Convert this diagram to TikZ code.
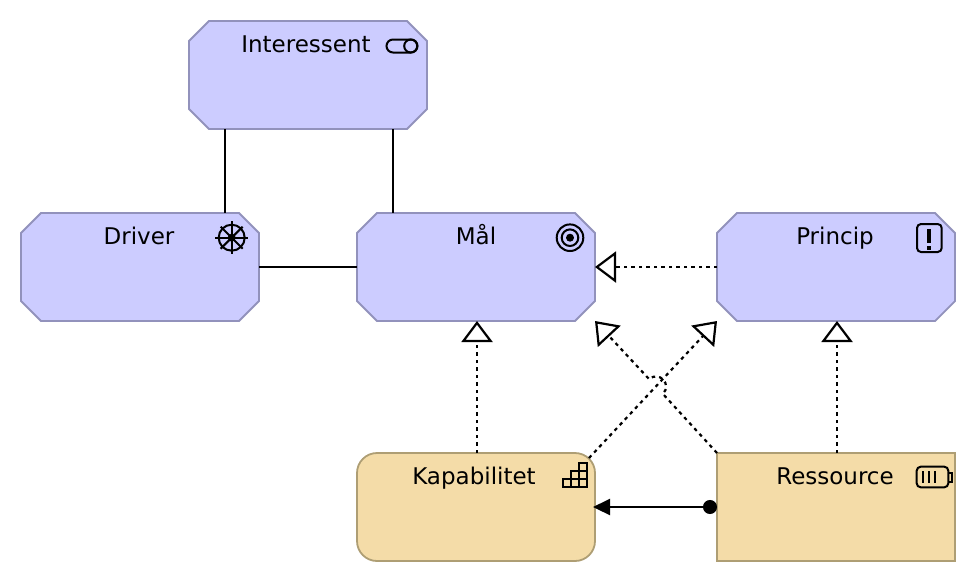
\documentclass[tikz,border=0pt]{standalone}
\usepackage{fontspec}
\setmainfont{DejaVu Sans}
\usetikzlibrary{arrows.meta,calc}
\definecolor{motfill}{HTML}{CCCCFF}
\definecolor{motline}{HTML}{9292BC}
\definecolor{resfill}{HTML}{F4DCA8}
\definecolor{resline}{HTML}{AE9E74}
\tikzset{
  boxsize/.style={rectangle,minimum width=238pt,minimum height=108pt,inner sep=0pt,outer sep=0pt,line width=1.8pt},
  motbox/.style={boxsize},
  octa/.style={line width=1.8pt,draw=motline,fill=motfill},
  capbox/.style={boxsize,rounded corners=20pt,draw=resline,fill=resfill},
  resbox/.style={boxsize,draw=resline,fill=resfill},
  caption/.style={font=\fontsize{23}{27}\selectfont,inner sep=0pt,anchor=base,text=black},
  assoc/.style={line width=2.2pt,draw=black},
  realize/.style={line width=2.2pt,draw=black,dash pattern=on 3.5pt off 4pt,-{Triangle[open,length=21pt,width=31pt,fill=white]}},
  serve/.style={line width=2.2pt,draw=black,{Circle[length=14pt]}-{Triangle[length=17pt,width=16pt]}},
  icon/.style={line width=2pt,draw=black},
}
\newcommand{\octagon}[1]{\draw[octa] ([xshift=20pt]#1.north west) -- ([xshift=-20pt]#1.north east) -- ([yshift=-20pt]#1.north east) -- ([yshift=20pt]#1.south east) -- ([xshift=-20pt]#1.south east) -- ([xshift=20pt]#1.south west) -- ([yshift=20pt]#1.south west) -- ([yshift=-20pt]#1.north west) -- cycle;}
\begin{document}
\begin{tikzpicture}[x=1pt,y=-1pt]
\useasboundingbox (0,0) rectangle (976,582);
% boxes
\node[motbox] (inter) at (308,75) {};
\node[motbox] (driver) at (140,267) {};
\node[motbox] (mal) at (476,267) {};
\node[motbox] (princip) at (836,267) {};
\octagon{inter}
\octagon{driver}
\octagon{mal}
\octagon{princip}
\node[capbox] (kap) at (476,507) {};
\node[resbox] (res) at (836,507) {};
% captions
\node[caption] (tinter) at (306,52) {Interessent};
\node[caption] (tdriver) at (139,244) {Driver};
\node[caption] (tmal) at (476,244) {Mål};
\node[caption] (tprincip) at (835,244) {Princip};
\node[caption] (tkap) at (474,484) {Kapabilitet};
\node[caption] (tres) at (835,484) {Ressource};
% connectors
\draw[assoc] ([xshift=-83pt]inter.south) -- ([xshift=85pt]driver.north);
\draw[assoc] ([xshift=85pt]inter.south) -- ([xshift=-83pt]mal.north);
\draw[assoc] (driver.east) -- (mal.west);
\draw[realize] (princip.west) -- (mal.east);
\draw[realize] ([xshift=1pt]kap.north) -- ([xshift=1pt]mal.south);
\draw[realize] ([xshift=1pt]res.north) -- ([xshift=1pt]princip.south);
\draw[realize] ([shift={(113pt,-5pt)}]kap.north) -- (princip.south -| princip.west);
\draw[realize] (res.north west) -- (662.8,393.8) .. controls (672.5,384.8) and (659,370.2) .. (649.2,379.2) -- (mal.south -| mal.east);
\draw[serve,shorten >=-2pt] (res.west) -- (kap.east);
% icon: stakeholder
\draw[icon] (393,39.5) -- (411,39.5) arc (-90:90:6.5) -- (393,52.5) arc (90:270:6.5) -- cycle;
\draw[icon] (410.7,46) circle (6.5);
% icon: driver
\draw[icon] (231.7,237.7) circle (13);
\draw[icon] (215.2,237.7) -- (248.2,237.7) (231.7,221.2) -- (231.7,254.2);
\draw[icon] (220.7,226.7) -- (242.7,248.7) (242.7,226.7) -- (220.7,248.7);
\fill (231.7,237.7) circle (4);
% icon: goal
\draw[icon] (570,237.7) circle (13.3) (570,237.7) circle (8.3);
\fill (570,237.7) circle (4);
% icon: principle
\draw[icon,rounded corners=4pt] (917,224) rectangle (941.7,252);
\fill (927,229) rectangle (931.2,243);
\fill (927,245.5) rectangle (931.2,249.5);
% icon: capability
\draw[icon] (562.7,479) rectangle (586.7,487);
\draw[icon] (570.7,471) rectangle (586.7,479);
\draw[icon] (578.7,463) rectangle (586.7,487);
\draw[icon] (570.7,471) -- (570.7,487);
% icon: resource
\draw[icon,rounded corners=4pt] (916.7,466.7) rectangle (948.3,487.3);
\draw[icon] (948.3,472.5) -- (951.7,472.5) -- (951.7,481.5) -- (948.3,481.5);
\draw[icon] (922.5,471) -- (922.5,483) (928.5,471) -- (928.5,483) (935,471) -- (935,483);
\end{tikzpicture}
\end{document}
